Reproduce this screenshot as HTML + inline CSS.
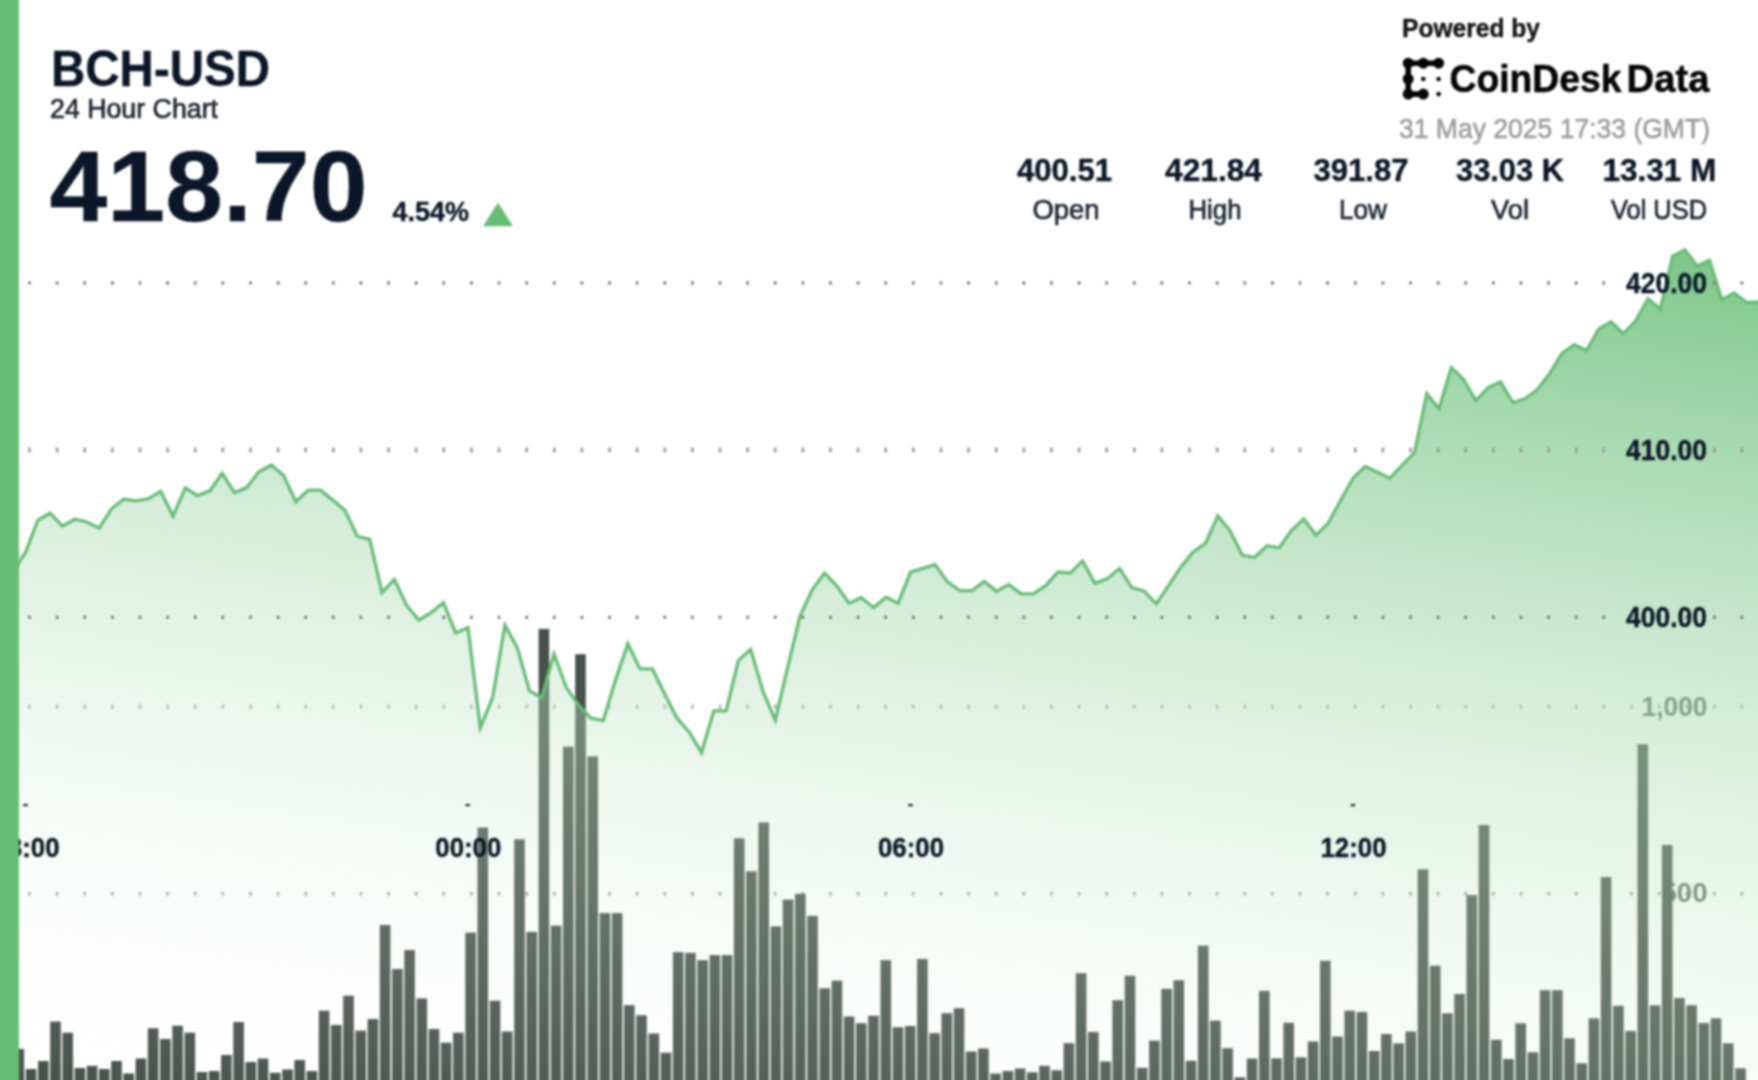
<!DOCTYPE html>
<html lang="en"><head><meta charset="utf-8"><title>BCH-USD 24 Hour Chart</title>
<style>
html,body{margin:0;padding:0;background:#fff;}
body{width:1758px;height:1080px;overflow:hidden;position:relative;font-family:"Liberation Sans",sans-serif;}
svg{position:absolute;left:-24px;top:-24px;display:block;}
text{font-family:"Liberation Sans",sans-serif;}
.b{font-weight:700;}
</style></head><body>
<svg width="1806" height="1128" viewBox="-24 -24 1806 1128">
<defs>
<linearGradient id="ag" gradientUnits="userSpaceOnUse" x1="1758" y1="250" x2="1609.7" y2="1309.2">
<stop offset="0" stop-color="#68be77" stop-opacity="0.88"/>
<stop offset="1" stop-color="#ffffff" stop-opacity="0"/>
</linearGradient>
<filter id="bl" filterUnits="userSpaceOnUse" x="-24" y="-24" width="1806" height="1128" color-interpolation-filters="sRGB"><feGaussianBlur stdDeviation="0.85"/></filter>
<filter id="bt" filterUnits="userSpaceOnUse" x="-24" y="-24" width="1806" height="1128" color-interpolation-filters="sRGB"><feGaussianBlur stdDeviation="0.85"/></filter>
</defs>
<rect x="-24" y="-24" width="1806" height="1128" fill="#fff"/>

<g filter="url(#bl)">
<g fill="#ababab">
<rect x="28.4" y="704.3" width="2.2" height="4.6"/>
<rect x="56.0" y="704.3" width="2.2" height="4.6"/>
<rect x="83.6" y="704.3" width="2.2" height="4.6"/>
<rect x="111.3" y="704.3" width="2.2" height="4.6"/>
<rect x="138.9" y="704.3" width="2.2" height="4.6"/>
<rect x="166.5" y="704.3" width="2.2" height="4.6"/>
<rect x="194.1" y="704.3" width="2.2" height="4.6"/>
<rect x="221.7" y="704.3" width="2.2" height="4.6"/>
<rect x="249.4" y="704.3" width="2.2" height="4.6"/>
<rect x="277.0" y="704.3" width="2.2" height="4.6"/>
<rect x="304.6" y="704.3" width="2.2" height="4.6"/>
<rect x="332.2" y="704.3" width="2.2" height="4.6"/>
<rect x="359.8" y="704.3" width="2.2" height="4.6"/>
<rect x="387.5" y="704.3" width="2.2" height="4.6"/>
<rect x="415.1" y="704.3" width="2.2" height="4.6"/>
<rect x="442.7" y="704.3" width="2.2" height="4.6"/>
<rect x="470.3" y="704.3" width="2.2" height="4.6"/>
<rect x="497.9" y="704.3" width="2.2" height="4.6"/>
<rect x="525.6" y="704.3" width="2.2" height="4.6"/>
<rect x="553.2" y="704.3" width="2.2" height="4.6"/>
<rect x="580.8" y="704.3" width="2.2" height="4.6"/>
<rect x="608.4" y="704.3" width="2.2" height="4.6"/>
<rect x="636.0" y="704.3" width="2.2" height="4.6"/>
<rect x="663.7" y="704.3" width="2.2" height="4.6"/>
<rect x="691.3" y="704.3" width="2.2" height="4.6"/>
<rect x="718.9" y="704.3" width="2.2" height="4.6"/>
<rect x="746.5" y="704.3" width="2.2" height="4.6"/>
<rect x="774.1" y="704.3" width="2.2" height="4.6"/>
<rect x="801.8" y="704.3" width="2.2" height="4.6"/>
<rect x="829.4" y="704.3" width="2.2" height="4.6"/>
<rect x="857.0" y="704.3" width="2.2" height="4.6"/>
<rect x="884.6" y="704.3" width="2.2" height="4.6"/>
<rect x="912.2" y="704.3" width="2.2" height="4.6"/>
<rect x="939.9" y="704.3" width="2.2" height="4.6"/>
<rect x="967.5" y="704.3" width="2.2" height="4.6"/>
<rect x="995.1" y="704.3" width="2.2" height="4.6"/>
<rect x="1022.7" y="704.3" width="2.2" height="4.6"/>
<rect x="1050.3" y="704.3" width="2.2" height="4.6"/>
<rect x="1078.0" y="704.3" width="2.2" height="4.6"/>
<rect x="1105.6" y="704.3" width="2.2" height="4.6"/>
<rect x="1133.2" y="704.3" width="2.2" height="4.6"/>
<rect x="1160.8" y="704.3" width="2.2" height="4.6"/>
<rect x="1188.4" y="704.3" width="2.2" height="4.6"/>
<rect x="1216.1" y="704.3" width="2.2" height="4.6"/>
<rect x="1243.7" y="704.3" width="2.2" height="4.6"/>
<rect x="1271.3" y="704.3" width="2.2" height="4.6"/>
<rect x="1298.9" y="704.3" width="2.2" height="4.6"/>
<rect x="1326.5" y="704.3" width="2.2" height="4.6"/>
<rect x="1354.2" y="704.3" width="2.2" height="4.6"/>
<rect x="1381.8" y="704.3" width="2.2" height="4.6"/>
<rect x="1409.4" y="704.3" width="2.2" height="4.6"/>
<rect x="1437.0" y="704.3" width="2.2" height="4.6"/>
<rect x="1464.6" y="704.3" width="2.2" height="4.6"/>
<rect x="1492.3" y="704.3" width="2.2" height="4.6"/>
<rect x="1519.9" y="704.3" width="2.2" height="4.6"/>
<rect x="1547.5" y="704.3" width="2.2" height="4.6"/>
<rect x="1575.1" y="704.3" width="2.2" height="4.6"/>
<rect x="1602.7" y="704.3" width="2.2" height="4.6"/>
<rect x="1630.4" y="704.3" width="2.2" height="4.6"/>
<rect x="1658.0" y="704.3" width="2.2" height="4.6"/>
<rect x="1685.6" y="704.3" width="2.2" height="4.6"/>
<rect x="1713.2" y="704.3" width="2.2" height="4.6"/>
<rect x="1740.8" y="704.3" width="2.2" height="4.6"/>
</g>
<g fill="#9a9a9a">
<rect x="28.2" y="892.1" width="2.6" height="3.4"/>
<rect x="55.8" y="892.1" width="2.6" height="3.4"/>
<rect x="83.4" y="892.1" width="2.6" height="3.4"/>
<rect x="111.1" y="892.1" width="2.6" height="3.4"/>
<rect x="138.7" y="892.1" width="2.6" height="3.4"/>
<rect x="166.3" y="892.1" width="2.6" height="3.4"/>
<rect x="193.9" y="892.1" width="2.6" height="3.4"/>
<rect x="221.5" y="892.1" width="2.6" height="3.4"/>
<rect x="249.2" y="892.1" width="2.6" height="3.4"/>
<rect x="276.8" y="892.1" width="2.6" height="3.4"/>
<rect x="304.4" y="892.1" width="2.6" height="3.4"/>
<rect x="332.0" y="892.1" width="2.6" height="3.4"/>
<rect x="359.6" y="892.1" width="2.6" height="3.4"/>
<rect x="387.3" y="892.1" width="2.6" height="3.4"/>
<rect x="414.9" y="892.1" width="2.6" height="3.4"/>
<rect x="442.5" y="892.1" width="2.6" height="3.4"/>
<rect x="470.1" y="892.1" width="2.6" height="3.4"/>
<rect x="497.7" y="892.1" width="2.6" height="3.4"/>
<rect x="525.4" y="892.1" width="2.6" height="3.4"/>
<rect x="553.0" y="892.1" width="2.6" height="3.4"/>
<rect x="580.6" y="892.1" width="2.6" height="3.4"/>
<rect x="608.2" y="892.1" width="2.6" height="3.4"/>
<rect x="635.8" y="892.1" width="2.6" height="3.4"/>
<rect x="663.5" y="892.1" width="2.6" height="3.4"/>
<rect x="691.1" y="892.1" width="2.6" height="3.4"/>
<rect x="718.7" y="892.1" width="2.6" height="3.4"/>
<rect x="746.3" y="892.1" width="2.6" height="3.4"/>
<rect x="773.9" y="892.1" width="2.6" height="3.4"/>
<rect x="801.6" y="892.1" width="2.6" height="3.4"/>
<rect x="829.2" y="892.1" width="2.6" height="3.4"/>
<rect x="856.8" y="892.1" width="2.6" height="3.4"/>
<rect x="884.4" y="892.1" width="2.6" height="3.4"/>
<rect x="912.0" y="892.1" width="2.6" height="3.4"/>
<rect x="939.7" y="892.1" width="2.6" height="3.4"/>
<rect x="967.3" y="892.1" width="2.6" height="3.4"/>
<rect x="994.9" y="892.1" width="2.6" height="3.4"/>
<rect x="1022.5" y="892.1" width="2.6" height="3.4"/>
<rect x="1050.1" y="892.1" width="2.6" height="3.4"/>
<rect x="1077.8" y="892.1" width="2.6" height="3.4"/>
<rect x="1105.4" y="892.1" width="2.6" height="3.4"/>
<rect x="1133.0" y="892.1" width="2.6" height="3.4"/>
<rect x="1160.6" y="892.1" width="2.6" height="3.4"/>
<rect x="1188.2" y="892.1" width="2.6" height="3.4"/>
<rect x="1215.9" y="892.1" width="2.6" height="3.4"/>
<rect x="1243.5" y="892.1" width="2.6" height="3.4"/>
<rect x="1271.1" y="892.1" width="2.6" height="3.4"/>
<rect x="1298.7" y="892.1" width="2.6" height="3.4"/>
<rect x="1326.3" y="892.1" width="2.6" height="3.4"/>
<rect x="1354.0" y="892.1" width="2.6" height="3.4"/>
<rect x="1381.6" y="892.1" width="2.6" height="3.4"/>
<rect x="1409.2" y="892.1" width="2.6" height="3.4"/>
<rect x="1436.8" y="892.1" width="2.6" height="3.4"/>
<rect x="1464.4" y="892.1" width="2.6" height="3.4"/>
<rect x="1492.1" y="892.1" width="2.6" height="3.4"/>
<rect x="1519.7" y="892.1" width="2.6" height="3.4"/>
<rect x="1547.3" y="892.1" width="2.6" height="3.4"/>
<rect x="1574.9" y="892.1" width="2.6" height="3.4"/>
<rect x="1602.5" y="892.1" width="2.6" height="3.4"/>
<rect x="1630.2" y="892.1" width="2.6" height="3.4"/>
<rect x="1657.8" y="892.1" width="2.6" height="3.4"/>
<rect x="1685.4" y="892.1" width="2.6" height="3.4"/>
<rect x="1713.0" y="892.1" width="2.6" height="3.4"/>
<rect x="1740.6" y="892.1" width="2.6" height="3.4"/>
</g>
<g class="b" fill="#5f6b62" font-size="27" text-anchor="end" font-weight="700">
<text x="1707.5" y="716.2" textLength="66" lengthAdjust="spacingAndGlyphs">1,000</text>
<text x="1707.5" y="902.2" textLength="46" lengthAdjust="spacingAndGlyphs">500</text>
</g>
<g fill="#465249">
<rect x="13.5" y="1049.0" width="10.6" height="61.0"/>
<rect x="25.8" y="1069.0" width="10.6" height="41.0"/>
<rect x="38.0" y="1061.0" width="10.6" height="49.0"/>
<rect x="50.2" y="1021.5" width="10.6" height="88.5"/>
<rect x="62.4" y="1032.7" width="10.6" height="77.3"/>
<rect x="74.6" y="1068.0" width="10.6" height="42.0"/>
<rect x="86.8" y="1065.8" width="10.6" height="44.2"/>
<rect x="99.0" y="1069.0" width="10.6" height="41.0"/>
<rect x="111.2" y="1061.0" width="10.6" height="49.0"/>
<rect x="123.4" y="1073.5" width="10.6" height="36.5"/>
<rect x="135.6" y="1058.5" width="10.6" height="51.5"/>
<rect x="147.8" y="1028.2" width="10.6" height="81.8"/>
<rect x="160.1" y="1039.0" width="10.6" height="71.0"/>
<rect x="172.3" y="1025.7" width="10.6" height="84.3"/>
<rect x="184.5" y="1032.7" width="10.6" height="77.3"/>
<rect x="196.7" y="1072.0" width="10.6" height="38.0"/>
<rect x="208.9" y="1071.0" width="10.6" height="39.0"/>
<rect x="221.1" y="1055.0" width="10.6" height="55.0"/>
<rect x="233.3" y="1022.0" width="10.6" height="88.0"/>
<rect x="245.5" y="1062.0" width="10.6" height="48.0"/>
<rect x="257.7" y="1058.5" width="10.6" height="51.5"/>
<rect x="269.9" y="1072.8" width="10.6" height="37.2"/>
<rect x="282.2" y="1069.5" width="10.6" height="40.5"/>
<rect x="294.4" y="1060.0" width="10.6" height="50.0"/>
<rect x="306.6" y="1071.0" width="10.6" height="39.0"/>
<rect x="318.8" y="1010.7" width="10.6" height="99.3"/>
<rect x="331.0" y="1025.0" width="10.6" height="85.0"/>
<rect x="343.2" y="995.7" width="10.6" height="114.3"/>
<rect x="355.4" y="1030.7" width="10.6" height="79.3"/>
<rect x="367.6" y="1019.0" width="10.6" height="91.0"/>
<rect x="379.8" y="925.0" width="10.6" height="185.0"/>
<rect x="392.1" y="969.0" width="10.6" height="141.0"/>
<rect x="404.3" y="950.0" width="10.6" height="160.0"/>
<rect x="416.5" y="998.4" width="10.6" height="111.6"/>
<rect x="428.7" y="1029.0" width="10.6" height="81.0"/>
<rect x="440.9" y="1042.7" width="10.6" height="67.3"/>
<rect x="453.1" y="1032.7" width="10.6" height="77.3"/>
<rect x="465.3" y="932.6" width="10.6" height="177.4"/>
<rect x="477.5" y="827.5" width="10.6" height="282.5"/>
<rect x="489.7" y="1000.7" width="10.6" height="109.3"/>
<rect x="501.9" y="1031.5" width="10.6" height="78.5"/>
<rect x="514.2" y="839.3" width="10.6" height="270.7"/>
<rect x="526.4" y="931.9" width="10.6" height="178.1"/>
<rect x="538.6" y="628.9" width="10.6" height="481.1"/>
<rect x="550.8" y="925.6" width="10.6" height="184.4"/>
<rect x="563.0" y="746.7" width="10.6" height="363.3"/>
<rect x="575.2" y="654.2" width="10.6" height="455.8"/>
<rect x="587.4" y="756.4" width="10.6" height="353.6"/>
<rect x="599.6" y="913.1" width="10.6" height="196.9"/>
<rect x="611.8" y="913.1" width="10.6" height="196.9"/>
<rect x="624.0" y="1005.2" width="10.6" height="104.8"/>
<rect x="636.2" y="1015.2" width="10.6" height="94.8"/>
<rect x="648.5" y="1033.5" width="10.6" height="76.5"/>
<rect x="660.7" y="1052.7" width="10.6" height="57.3"/>
<rect x="672.9" y="952.1" width="10.6" height="157.9"/>
<rect x="685.1" y="952.9" width="10.6" height="157.1"/>
<rect x="697.3" y="960.2" width="10.6" height="149.8"/>
<rect x="709.5" y="955.1" width="10.6" height="154.9"/>
<rect x="721.7" y="955.1" width="10.6" height="154.9"/>
<rect x="733.9" y="838.3" width="10.6" height="271.7"/>
<rect x="746.1" y="871.3" width="10.6" height="238.7"/>
<rect x="758.4" y="822.5" width="10.6" height="287.5"/>
<rect x="770.6" y="926.4" width="10.6" height="183.6"/>
<rect x="782.8" y="899.6" width="10.6" height="210.4"/>
<rect x="795.0" y="893.8" width="10.6" height="216.2"/>
<rect x="807.2" y="915.9" width="10.6" height="194.1"/>
<rect x="819.4" y="988.2" width="10.6" height="121.8"/>
<rect x="831.6" y="980.7" width="10.6" height="129.3"/>
<rect x="843.8" y="1016.5" width="10.6" height="93.5"/>
<rect x="856.0" y="1023.2" width="10.6" height="86.8"/>
<rect x="868.2" y="1015.7" width="10.6" height="94.3"/>
<rect x="880.5" y="960.2" width="10.6" height="149.8"/>
<rect x="892.7" y="1027.2" width="10.6" height="82.8"/>
<rect x="904.9" y="1026.0" width="10.6" height="84.0"/>
<rect x="917.1" y="958.9" width="10.6" height="151.1"/>
<rect x="929.3" y="1033.2" width="10.6" height="76.8"/>
<rect x="941.5" y="1013.2" width="10.6" height="96.8"/>
<rect x="953.7" y="1008.2" width="10.6" height="101.8"/>
<rect x="965.9" y="1051.5" width="10.6" height="58.5"/>
<rect x="978.1" y="1048.5" width="10.6" height="61.5"/>
<rect x="990.3" y="1073.5" width="10.6" height="36.5"/>
<rect x="1002.6" y="1071.0" width="10.6" height="39.0"/>
<rect x="1014.8" y="1068.5" width="10.6" height="41.5"/>
<rect x="1027.0" y="1072.3" width="10.6" height="37.7"/>
<rect x="1039.2" y="1065.8" width="10.6" height="44.2"/>
<rect x="1051.4" y="1070.3" width="10.6" height="39.7"/>
<rect x="1063.6" y="1043.2" width="10.6" height="66.8"/>
<rect x="1075.8" y="973.2" width="10.6" height="136.8"/>
<rect x="1088.0" y="1032.0" width="10.6" height="78.0"/>
<rect x="1100.2" y="1061.5" width="10.6" height="48.5"/>
<rect x="1112.4" y="1000.2" width="10.6" height="109.8"/>
<rect x="1124.7" y="975.7" width="10.6" height="134.3"/>
<rect x="1136.9" y="1067.8" width="10.6" height="42.2"/>
<rect x="1149.1" y="1040.7" width="10.6" height="69.3"/>
<rect x="1161.3" y="988.9" width="10.6" height="121.1"/>
<rect x="1173.5" y="980.2" width="10.6" height="129.8"/>
<rect x="1185.7" y="1060.8" width="10.6" height="49.2"/>
<rect x="1197.9" y="945.6" width="10.6" height="164.4"/>
<rect x="1210.1" y="1020.7" width="10.6" height="89.3"/>
<rect x="1222.3" y="1048.2" width="10.6" height="61.8"/>
<rect x="1234.5" y="1077.3" width="10.6" height="32.7"/>
<rect x="1246.8" y="1058.5" width="10.6" height="51.5"/>
<rect x="1259.0" y="990.9" width="10.6" height="119.1"/>
<rect x="1271.2" y="1058.3" width="10.6" height="51.7"/>
<rect x="1283.4" y="1022.8" width="10.6" height="87.2"/>
<rect x="1295.6" y="1057.3" width="10.6" height="52.7"/>
<rect x="1307.8" y="1041.5" width="10.6" height="68.5"/>
<rect x="1320.0" y="960.7" width="10.6" height="149.3"/>
<rect x="1332.2" y="1036.5" width="10.6" height="73.5"/>
<rect x="1344.4" y="1010.7" width="10.6" height="99.3"/>
<rect x="1356.6" y="1012.0" width="10.6" height="98.0"/>
<rect x="1368.9" y="1051.0" width="10.6" height="59.0"/>
<rect x="1381.1" y="1034.0" width="10.6" height="76.0"/>
<rect x="1393.3" y="1043.3" width="10.6" height="66.7"/>
<rect x="1405.5" y="1031.5" width="10.6" height="78.5"/>
<rect x="1417.7" y="869.3" width="10.6" height="240.7"/>
<rect x="1429.9" y="965.7" width="10.6" height="144.3"/>
<rect x="1442.1" y="1013.3" width="10.6" height="96.7"/>
<rect x="1454.3" y="994.0" width="10.6" height="116.0"/>
<rect x="1466.5" y="895.1" width="10.6" height="214.9"/>
<rect x="1478.7" y="825.0" width="10.6" height="285.0"/>
<rect x="1491.0" y="1039.8" width="10.6" height="70.2"/>
<rect x="1503.2" y="1059.0" width="10.6" height="51.0"/>
<rect x="1515.4" y="1023.3" width="10.6" height="86.7"/>
<rect x="1527.6" y="1052.3" width="10.6" height="57.7"/>
<rect x="1539.8" y="990.2" width="10.6" height="119.8"/>
<rect x="1552.0" y="990.2" width="10.6" height="119.8"/>
<rect x="1564.2" y="1038.3" width="10.6" height="71.7"/>
<rect x="1576.4" y="1063.3" width="10.6" height="46.7"/>
<rect x="1588.6" y="1018.3" width="10.6" height="91.7"/>
<rect x="1600.8" y="877.1" width="10.6" height="232.9"/>
<rect x="1613.1" y="1005.8" width="10.6" height="104.2"/>
<rect x="1625.3" y="1031.0" width="10.6" height="79.0"/>
<rect x="1637.5" y="744.2" width="10.6" height="365.8"/>
<rect x="1649.7" y="1005.3" width="10.6" height="104.7"/>
<rect x="1661.9" y="845.0" width="10.6" height="265.0"/>
<rect x="1674.1" y="998.0" width="10.6" height="112.0"/>
<rect x="1686.3" y="1005.3" width="10.6" height="104.7"/>
<rect x="1698.5" y="1023.0" width="10.6" height="87.0"/>
<rect x="1710.7" y="1018.3" width="10.6" height="91.7"/>
<rect x="1722.9" y="1043.3" width="10.6" height="66.7"/>
<rect x="1735.2" y="1068.3" width="10.6" height="41.7"/>
</g>
<path d="M13.2,571.0 L25.5,552.5 L37.8,520.3 L50.1,513.2 L62.4,526.2 L74.7,519.2 L87.0,522.0 L99.3,528.2 L111.5,508.8 L123.8,499.2 L136.1,500.9 L148.4,498.8 L160.7,491.4 L173.0,516.0 L185.3,488.0 L197.6,495.6 L209.9,490.8 L222.2,473.3 L234.5,492.6 L246.8,487.6 L259.0,471.8 L271.3,465.0 L283.6,475.6 L295.9,501.8 L308.2,490.1 L320.5,490.1 L332.8,500.1 L345.1,510.6 L357.4,536.4 L369.7,539.4 L382.0,592.7 L394.3,579.4 L406.5,605.2 L418.8,620.2 L431.1,612.6 L443.4,602.6 L455.7,633.1 L468.0,627.6 L480.3,727.7 L492.6,697.7 L504.9,625.1 L517.2,647.6 L529.5,690.9 L541.8,697.7 L554.0,653.9 L566.3,687.6 L578.6,705.2 L590.9,718.2 L603.2,720.7 L615.5,680.1 L627.8,643.9 L640.1,668.9 L652.4,668.9 L664.7,693.9 L677.0,718.2 L689.3,732.2 L701.5,752.7 L713.8,710.9 L726.1,710.9 L738.4,660.6 L750.7,649.4 L763.0,691.4 L775.3,720.2 L787.6,667.6 L799.9,616.5 L812.2,589.8 L824.5,573.0 L836.8,585.9 L849.0,603.2 L861.3,597.7 L873.6,607.7 L885.9,597.2 L898.2,603.2 L910.5,572.2 L922.8,568.4 L935.1,564.6 L947.4,581.9 L959.7,590.7 L972.0,590.7 L984.3,581.4 L996.5,591.4 L1008.8,584.4 L1021.1,593.9 L1033.4,593.9 L1045.7,585.7 L1058.0,571.9 L1070.3,573.1 L1082.6,560.9 L1094.9,583.4 L1107.2,578.9 L1119.5,568.4 L1131.8,587.6 L1144.0,590.9 L1156.3,603.9 L1168.6,585.6 L1180.9,567.1 L1193.2,551.9 L1205.5,543.3 L1217.8,515.8 L1230.1,530.8 L1242.4,555.3 L1254.7,557.3 L1267.0,545.8 L1279.3,547.8 L1291.5,530.3 L1303.8,519.0 L1316.1,535.3 L1328.4,522.8 L1340.7,500.2 L1353.0,478.2 L1365.3,466.4 L1377.6,472.2 L1389.9,478.2 L1402.2,465.1 L1414.5,452.6 L1426.8,393.8 L1439.0,408.8 L1451.3,367.5 L1463.6,379.6 L1475.9,400.6 L1488.2,387.5 L1500.5,381.8 L1512.8,402.5 L1525.1,398.8 L1537.4,389.5 L1549.7,373.5 L1562.0,353.5 L1574.3,344.6 L1586.5,350.5 L1598.8,329.0 L1611.1,321.7 L1623.4,333.6 L1635.7,320.9 L1648.0,298.8 L1660.3,309.1 L1672.6,256.1 L1684.9,249.8 L1697.2,266.1 L1709.5,260.4 L1721.8,299.6 L1734.0,292.9 L1746.3,302.4 L1758.6,302.0 L1788.6,302.0 L1788.6,1110 L13.2,1110 Z" fill="url(#ag)"/>
<g fill="#737377">
<rect x="28.2" y="281.4" width="2.6" height="3.2"/>
<rect x="55.8" y="281.4" width="2.6" height="3.2"/>
<rect x="83.4" y="281.4" width="2.6" height="3.2"/>
<rect x="111.1" y="281.4" width="2.6" height="3.2"/>
<rect x="138.7" y="281.4" width="2.6" height="3.2"/>
<rect x="166.3" y="281.4" width="2.6" height="3.2"/>
<rect x="193.9" y="281.4" width="2.6" height="3.2"/>
<rect x="221.5" y="281.4" width="2.6" height="3.2"/>
<rect x="249.2" y="281.4" width="2.6" height="3.2"/>
<rect x="276.8" y="281.4" width="2.6" height="3.2"/>
<rect x="304.4" y="281.4" width="2.6" height="3.2"/>
<rect x="332.0" y="281.4" width="2.6" height="3.2"/>
<rect x="359.6" y="281.4" width="2.6" height="3.2"/>
<rect x="387.3" y="281.4" width="2.6" height="3.2"/>
<rect x="414.9" y="281.4" width="2.6" height="3.2"/>
<rect x="442.5" y="281.4" width="2.6" height="3.2"/>
<rect x="470.1" y="281.4" width="2.6" height="3.2"/>
<rect x="497.7" y="281.4" width="2.6" height="3.2"/>
<rect x="525.4" y="281.4" width="2.6" height="3.2"/>
<rect x="553.0" y="281.4" width="2.6" height="3.2"/>
<rect x="580.6" y="281.4" width="2.6" height="3.2"/>
<rect x="608.2" y="281.4" width="2.6" height="3.2"/>
<rect x="635.8" y="281.4" width="2.6" height="3.2"/>
<rect x="663.5" y="281.4" width="2.6" height="3.2"/>
<rect x="691.1" y="281.4" width="2.6" height="3.2"/>
<rect x="718.7" y="281.4" width="2.6" height="3.2"/>
<rect x="746.3" y="281.4" width="2.6" height="3.2"/>
<rect x="773.9" y="281.4" width="2.6" height="3.2"/>
<rect x="801.6" y="281.4" width="2.6" height="3.2"/>
<rect x="829.2" y="281.4" width="2.6" height="3.2"/>
<rect x="856.8" y="281.4" width="2.6" height="3.2"/>
<rect x="884.4" y="281.4" width="2.6" height="3.2"/>
<rect x="912.0" y="281.4" width="2.6" height="3.2"/>
<rect x="939.7" y="281.4" width="2.6" height="3.2"/>
<rect x="967.3" y="281.4" width="2.6" height="3.2"/>
<rect x="994.9" y="281.4" width="2.6" height="3.2"/>
<rect x="1022.5" y="281.4" width="2.6" height="3.2"/>
<rect x="1050.1" y="281.4" width="2.6" height="3.2"/>
<rect x="1077.8" y="281.4" width="2.6" height="3.2"/>
<rect x="1105.4" y="281.4" width="2.6" height="3.2"/>
<rect x="1133.0" y="281.4" width="2.6" height="3.2"/>
<rect x="1160.6" y="281.4" width="2.6" height="3.2"/>
<rect x="1188.2" y="281.4" width="2.6" height="3.2"/>
<rect x="1215.9" y="281.4" width="2.6" height="3.2"/>
<rect x="1243.5" y="281.4" width="2.6" height="3.2"/>
<rect x="1271.1" y="281.4" width="2.6" height="3.2"/>
<rect x="1298.7" y="281.4" width="2.6" height="3.2"/>
<rect x="1326.3" y="281.4" width="2.6" height="3.2"/>
<rect x="1354.0" y="281.4" width="2.6" height="3.2"/>
<rect x="1381.6" y="281.4" width="2.6" height="3.2"/>
<rect x="1409.2" y="281.4" width="2.6" height="3.2"/>
<rect x="1436.8" y="281.4" width="2.6" height="3.2"/>
<rect x="1464.4" y="281.4" width="2.6" height="3.2"/>
<rect x="1492.1" y="281.4" width="2.6" height="3.2"/>
<rect x="1519.7" y="281.4" width="2.6" height="3.2"/>
<rect x="1547.3" y="281.4" width="2.6" height="3.2"/>
<rect x="1574.9" y="281.4" width="2.6" height="3.2"/>
<rect x="1602.5" y="281.4" width="2.6" height="3.2"/>
<rect x="1630.2" y="281.4" width="2.6" height="3.2"/>
<rect x="1657.8" y="281.4" width="2.6" height="3.2"/>
<rect x="1685.4" y="281.4" width="2.6" height="3.2"/>
<rect x="1713.0" y="281.4" width="2.6" height="3.2"/>
<rect x="1740.6" y="281.4" width="2.6" height="3.2"/>
<rect x="28.2" y="615.7" width="2.6" height="3.2"/>
<rect x="55.8" y="615.7" width="2.6" height="3.2"/>
<rect x="83.4" y="615.7" width="2.6" height="3.2"/>
<rect x="111.1" y="615.7" width="2.6" height="3.2"/>
<rect x="138.7" y="615.7" width="2.6" height="3.2"/>
<rect x="166.3" y="615.7" width="2.6" height="3.2"/>
<rect x="193.9" y="615.7" width="2.6" height="3.2"/>
<rect x="221.5" y="615.7" width="2.6" height="3.2"/>
<rect x="249.2" y="615.7" width="2.6" height="3.2"/>
<rect x="276.8" y="615.7" width="2.6" height="3.2"/>
<rect x="304.4" y="615.7" width="2.6" height="3.2"/>
<rect x="332.0" y="615.7" width="2.6" height="3.2"/>
<rect x="359.6" y="615.7" width="2.6" height="3.2"/>
<rect x="387.3" y="615.7" width="2.6" height="3.2"/>
<rect x="414.9" y="615.7" width="2.6" height="3.2"/>
<rect x="442.5" y="615.7" width="2.6" height="3.2"/>
<rect x="470.1" y="615.7" width="2.6" height="3.2"/>
<rect x="497.7" y="615.7" width="2.6" height="3.2"/>
<rect x="525.4" y="615.7" width="2.6" height="3.2"/>
<rect x="553.0" y="615.7" width="2.6" height="3.2"/>
<rect x="580.6" y="615.7" width="2.6" height="3.2"/>
<rect x="608.2" y="615.7" width="2.6" height="3.2"/>
<rect x="635.8" y="615.7" width="2.6" height="3.2"/>
<rect x="663.5" y="615.7" width="2.6" height="3.2"/>
<rect x="691.1" y="615.7" width="2.6" height="3.2"/>
<rect x="718.7" y="615.7" width="2.6" height="3.2"/>
<rect x="746.3" y="615.7" width="2.6" height="3.2"/>
<rect x="773.9" y="615.7" width="2.6" height="3.2"/>
<rect x="801.6" y="615.7" width="2.6" height="3.2"/>
<rect x="829.2" y="615.7" width="2.6" height="3.2"/>
<rect x="856.8" y="615.7" width="2.6" height="3.2"/>
<rect x="884.4" y="615.7" width="2.6" height="3.2"/>
<rect x="912.0" y="615.7" width="2.6" height="3.2"/>
<rect x="939.7" y="615.7" width="2.6" height="3.2"/>
<rect x="967.3" y="615.7" width="2.6" height="3.2"/>
<rect x="994.9" y="615.7" width="2.6" height="3.2"/>
<rect x="1022.5" y="615.7" width="2.6" height="3.2"/>
<rect x="1050.1" y="615.7" width="2.6" height="3.2"/>
<rect x="1077.8" y="615.7" width="2.6" height="3.2"/>
<rect x="1105.4" y="615.7" width="2.6" height="3.2"/>
<rect x="1133.0" y="615.7" width="2.6" height="3.2"/>
<rect x="1160.6" y="615.7" width="2.6" height="3.2"/>
<rect x="1188.2" y="615.7" width="2.6" height="3.2"/>
<rect x="1215.9" y="615.7" width="2.6" height="3.2"/>
<rect x="1243.5" y="615.7" width="2.6" height="3.2"/>
<rect x="1271.1" y="615.7" width="2.6" height="3.2"/>
<rect x="1298.7" y="615.7" width="2.6" height="3.2"/>
<rect x="1326.3" y="615.7" width="2.6" height="3.2"/>
<rect x="1354.0" y="615.7" width="2.6" height="3.2"/>
<rect x="1381.6" y="615.7" width="2.6" height="3.2"/>
<rect x="1409.2" y="615.7" width="2.6" height="3.2"/>
<rect x="1436.8" y="615.7" width="2.6" height="3.2"/>
<rect x="1464.4" y="615.7" width="2.6" height="3.2"/>
<rect x="1492.1" y="615.7" width="2.6" height="3.2"/>
<rect x="1519.7" y="615.7" width="2.6" height="3.2"/>
<rect x="1547.3" y="615.7" width="2.6" height="3.2"/>
<rect x="1574.9" y="615.7" width="2.6" height="3.2"/>
<rect x="1602.5" y="615.7" width="2.6" height="3.2"/>
<rect x="1630.2" y="615.7" width="2.6" height="3.2"/>
<rect x="1657.8" y="615.7" width="2.6" height="3.2"/>
<rect x="1685.4" y="615.7" width="2.6" height="3.2"/>
<rect x="1713.0" y="615.7" width="2.6" height="3.2"/>
<rect x="1740.6" y="615.7" width="2.6" height="3.2"/>
</g>
<g fill="#98989b">
<rect x="28.2" y="447.6" width="2.6" height="4.8"/>
<rect x="55.8" y="447.6" width="2.6" height="4.8"/>
<rect x="83.4" y="447.6" width="2.6" height="4.8"/>
<rect x="111.1" y="447.6" width="2.6" height="4.8"/>
<rect x="138.7" y="447.6" width="2.6" height="4.8"/>
<rect x="166.3" y="447.6" width="2.6" height="4.8"/>
<rect x="193.9" y="447.6" width="2.6" height="4.8"/>
<rect x="221.5" y="447.6" width="2.6" height="4.8"/>
<rect x="249.2" y="447.6" width="2.6" height="4.8"/>
<rect x="276.8" y="447.6" width="2.6" height="4.8"/>
<rect x="304.4" y="447.6" width="2.6" height="4.8"/>
<rect x="332.0" y="447.6" width="2.6" height="4.8"/>
<rect x="359.6" y="447.6" width="2.6" height="4.8"/>
<rect x="387.3" y="447.6" width="2.6" height="4.8"/>
<rect x="414.9" y="447.6" width="2.6" height="4.8"/>
<rect x="442.5" y="447.6" width="2.6" height="4.8"/>
<rect x="470.1" y="447.6" width="2.6" height="4.8"/>
<rect x="497.7" y="447.6" width="2.6" height="4.8"/>
<rect x="525.4" y="447.6" width="2.6" height="4.8"/>
<rect x="553.0" y="447.6" width="2.6" height="4.8"/>
<rect x="580.6" y="447.6" width="2.6" height="4.8"/>
<rect x="608.2" y="447.6" width="2.6" height="4.8"/>
<rect x="635.8" y="447.6" width="2.6" height="4.8"/>
<rect x="663.5" y="447.6" width="2.6" height="4.8"/>
<rect x="691.1" y="447.6" width="2.6" height="4.8"/>
<rect x="718.7" y="447.6" width="2.6" height="4.8"/>
<rect x="746.3" y="447.6" width="2.6" height="4.8"/>
<rect x="773.9" y="447.6" width="2.6" height="4.8"/>
<rect x="801.6" y="447.6" width="2.6" height="4.8"/>
<rect x="829.2" y="447.6" width="2.6" height="4.8"/>
<rect x="856.8" y="447.6" width="2.6" height="4.8"/>
<rect x="884.4" y="447.6" width="2.6" height="4.8"/>
<rect x="912.0" y="447.6" width="2.6" height="4.8"/>
<rect x="939.7" y="447.6" width="2.6" height="4.8"/>
<rect x="967.3" y="447.6" width="2.6" height="4.8"/>
<rect x="994.9" y="447.6" width="2.6" height="4.8"/>
<rect x="1022.5" y="447.6" width="2.6" height="4.8"/>
<rect x="1050.1" y="447.6" width="2.6" height="4.8"/>
<rect x="1077.8" y="447.6" width="2.6" height="4.8"/>
<rect x="1105.4" y="447.6" width="2.6" height="4.8"/>
<rect x="1133.0" y="447.6" width="2.6" height="4.8"/>
<rect x="1160.6" y="447.6" width="2.6" height="4.8"/>
<rect x="1188.2" y="447.6" width="2.6" height="4.8"/>
<rect x="1215.9" y="447.6" width="2.6" height="4.8"/>
<rect x="1243.5" y="447.6" width="2.6" height="4.8"/>
<rect x="1271.1" y="447.6" width="2.6" height="4.8"/>
<rect x="1298.7" y="447.6" width="2.6" height="4.8"/>
<rect x="1326.3" y="447.6" width="2.6" height="4.8"/>
<rect x="1354.0" y="447.6" width="2.6" height="4.8"/>
<rect x="1381.6" y="447.6" width="2.6" height="4.8"/>
<rect x="1409.2" y="447.6" width="2.6" height="4.8"/>
<rect x="1436.8" y="447.6" width="2.6" height="4.8"/>
<rect x="1464.4" y="447.6" width="2.6" height="4.8"/>
<rect x="1492.1" y="447.6" width="2.6" height="4.8"/>
<rect x="1519.7" y="447.6" width="2.6" height="4.8"/>
<rect x="1547.3" y="447.6" width="2.6" height="4.8"/>
<rect x="1574.9" y="447.6" width="2.6" height="4.8"/>
<rect x="1602.5" y="447.6" width="2.6" height="4.8"/>
<rect x="1630.2" y="447.6" width="2.6" height="4.8"/>
<rect x="1657.8" y="447.6" width="2.6" height="4.8"/>
<rect x="1685.4" y="447.6" width="2.6" height="4.8"/>
<rect x="1713.0" y="447.6" width="2.6" height="4.8"/>
<rect x="1740.6" y="447.6" width="2.6" height="4.8"/>
</g>
<path d="M13.2,571.0 L25.5,552.5 L37.8,520.3 L50.1,513.2 L62.4,526.2 L74.7,519.2 L87.0,522.0 L99.3,528.2 L111.5,508.8 L123.8,499.2 L136.1,500.9 L148.4,498.8 L160.7,491.4 L173.0,516.0 L185.3,488.0 L197.6,495.6 L209.9,490.8 L222.2,473.3 L234.5,492.6 L246.8,487.6 L259.0,471.8 L271.3,465.0 L283.6,475.6 L295.9,501.8 L308.2,490.1 L320.5,490.1 L332.8,500.1 L345.1,510.6 L357.4,536.4 L369.7,539.4 L382.0,592.7 L394.3,579.4 L406.5,605.2 L418.8,620.2 L431.1,612.6 L443.4,602.6 L455.7,633.1 L468.0,627.6 L480.3,727.7 L492.6,697.7 L504.9,625.1 L517.2,647.6 L529.5,690.9 L541.8,697.7 L554.0,653.9 L566.3,687.6 L578.6,705.2 L590.9,718.2 L603.2,720.7 L615.5,680.1 L627.8,643.9 L640.1,668.9 L652.4,668.9 L664.7,693.9 L677.0,718.2 L689.3,732.2 L701.5,752.7 L713.8,710.9 L726.1,710.9 L738.4,660.6 L750.7,649.4 L763.0,691.4 L775.3,720.2 L787.6,667.6 L799.9,616.5 L812.2,589.8 L824.5,573.0 L836.8,585.9 L849.0,603.2 L861.3,597.7 L873.6,607.7 L885.9,597.2 L898.2,603.2 L910.5,572.2 L922.8,568.4 L935.1,564.6 L947.4,581.9 L959.7,590.7 L972.0,590.7 L984.3,581.4 L996.5,591.4 L1008.8,584.4 L1021.1,593.9 L1033.4,593.9 L1045.7,585.7 L1058.0,571.9 L1070.3,573.1 L1082.6,560.9 L1094.9,583.4 L1107.2,578.9 L1119.5,568.4 L1131.8,587.6 L1144.0,590.9 L1156.3,603.9 L1168.6,585.6 L1180.9,567.1 L1193.2,551.9 L1205.5,543.3 L1217.8,515.8 L1230.1,530.8 L1242.4,555.3 L1254.7,557.3 L1267.0,545.8 L1279.3,547.8 L1291.5,530.3 L1303.8,519.0 L1316.1,535.3 L1328.4,522.8 L1340.7,500.2 L1353.0,478.2 L1365.3,466.4 L1377.6,472.2 L1389.9,478.2 L1402.2,465.1 L1414.5,452.6 L1426.8,393.8 L1439.0,408.8 L1451.3,367.5 L1463.6,379.6 L1475.9,400.6 L1488.2,387.5 L1500.5,381.8 L1512.8,402.5 L1525.1,398.8 L1537.4,389.5 L1549.7,373.5 L1562.0,353.5 L1574.3,344.6 L1586.5,350.5 L1598.8,329.0 L1611.1,321.7 L1623.4,333.6 L1635.7,320.9 L1648.0,298.8 L1660.3,309.1 L1672.6,256.1 L1684.9,249.8 L1697.2,266.1 L1709.5,260.4 L1721.8,299.6 L1734.0,292.9 L1746.3,302.4 L1758.6,302.0 L1788.6,302.0" fill="none" stroke="#67bd76" stroke-width="3.3" stroke-linejoin="miter" stroke-linecap="butt"/>
</g>
<g filter="url(#bt)">
<g fill="#1c2636">
<rect x="23.3" y="804" width="4.4" height="2.2"/>
<rect x="465.5" y="804" width="4.4" height="2.2"/>
<rect x="908.3" y="804" width="4.4" height="2.2"/>
<rect x="1350.8" y="804" width="4.4" height="2.2"/>
</g>
<g fill="#0b1728" stroke="#0b1728" stroke-width="0.4" font-size="28" font-weight="700">
<text x="1707" y="292.8" text-anchor="end" font-size="28.6" textLength="81" lengthAdjust="spacingAndGlyphs">420.00</text>
<text x="1707" y="459.8" text-anchor="end" font-size="28.6" textLength="81" lengthAdjust="spacingAndGlyphs">410.00</text>
<text x="1707" y="626.8" text-anchor="end" font-size="28.6" textLength="81" lengthAdjust="spacingAndGlyphs">400.00</text>
<text x="26.5" y="856.7" text-anchor="middle" textLength="66" lengthAdjust="spacingAndGlyphs">18:00</text>
<text x="468.3" y="856.7" text-anchor="middle" textLength="66" lengthAdjust="spacingAndGlyphs">00:00</text>
<text x="911" y="856.7" text-anchor="middle" textLength="66" lengthAdjust="spacingAndGlyphs">06:00</text>
<text x="1353.5" y="856.7" text-anchor="middle" textLength="66" lengthAdjust="spacingAndGlyphs">12:00</text>
</g>
<rect x="-24" y="-24" width="42.9" height="1128" fill="#66be74"/>
<g fill="#0b1728" stroke="#0b1728" stroke-width="0.4">
<text x="51" y="86" font-size="49.6" font-weight="700" textLength="219" lengthAdjust="spacingAndGlyphs">BCH-USD</text>
<text x="50" y="118.4" font-size="28.4" fill="#1a2535" stroke="#1a2535" stroke-width="0.7" textLength="168" lengthAdjust="spacingAndGlyphs">24 Hour Chart</text>
<text x="49.5" y="221" font-size="100.5" font-weight="700" textLength="318" lengthAdjust="spacingAndGlyphs">418.70</text>
<text x="392.5" y="221" font-size="28" font-weight="700" textLength="76.5" lengthAdjust="spacingAndGlyphs">4.54%</text>
<path d="M498,202.5 L513,226.2 L483,226.2 Z" fill="#66be74" stroke="none"/>
</g>
<text x="1402" y="37.2" font-size="26.5" font-weight="700" fill="#141414" stroke="#141414" stroke-width="0.4" textLength="138" lengthAdjust="spacingAndGlyphs">Powered by</text>
<g fill="#050505" stroke="#050505" stroke-width="5.6" stroke-linecap="round">
<path d="M1438.6,63.2 L1408.2,63.2 L1408.2,94.1 L1423.3,94.1" fill="none" stroke-linejoin="round"/>
<circle cx="1408.2" cy="63.2" r="5.5" stroke="none"/>
<circle cx="1423.3" cy="63.2" r="5.5" stroke="none"/>
<circle cx="1438.6" cy="63.2" r="5.5" stroke="none"/>
<circle cx="1408.2" cy="79.0" r="5.5" stroke="none"/>
<circle cx="1408.2" cy="94.1" r="5.5" stroke="none"/>
<circle cx="1423.3" cy="94.1" r="5.5" stroke="none"/>
<circle cx="1423.3" cy="79.0" r="2.3" stroke="none"/>
<circle cx="1438.6" cy="79.0" r="2.3" stroke="none"/>
<circle cx="1438.6" cy="94.1" r="2.3" stroke="none"/>
</g>
<text x="1449.5" y="92" font-size="38.5" font-weight="700" fill="#050505" stroke="#050505" stroke-width="0.5" textLength="172" lengthAdjust="spacingAndGlyphs">CoinDesk</text>
<text x="1626.5" y="92" font-size="38.5" font-weight="700" fill="#050505" stroke="#050505" stroke-width="0.5" textLength="83" lengthAdjust="spacingAndGlyphs">Data</text>
<text x="1399" y="137.8" font-size="28.5" fill="#9c9c9c" stroke="#9c9c9c" stroke-width="0.6" textLength="311" lengthAdjust="spacingAndGlyphs">31 May 2025 17:33 (GMT)</text>
<text x="1064.5" y="181.3" font-size="31" font-weight="700" fill="#0b1728" stroke="#0b1728" stroke-width="0.4" text-anchor="middle" textLength="95" lengthAdjust="spacingAndGlyphs">400.51</text>
<text x="1066" y="218.9" font-size="28" fill="#1a2535" stroke="#1a2535" stroke-width="0.7" text-anchor="middle" textLength="67" lengthAdjust="spacingAndGlyphs">Open</text>
<text x="1213.5" y="181.3" font-size="31" font-weight="700" fill="#0b1728" stroke="#0b1728" stroke-width="0.4" text-anchor="middle" textLength="97" lengthAdjust="spacingAndGlyphs">421.84</text>
<text x="1215" y="218.9" font-size="28" fill="#1a2535" stroke="#1a2535" stroke-width="0.7" text-anchor="middle" textLength="53" lengthAdjust="spacingAndGlyphs">High</text>
<text x="1361" y="181.3" font-size="31" font-weight="700" fill="#0b1728" stroke="#0b1728" stroke-width="0.4" text-anchor="middle" textLength="95" lengthAdjust="spacingAndGlyphs">391.87</text>
<text x="1363" y="218.9" font-size="28" fill="#1a2535" stroke="#1a2535" stroke-width="0.7" text-anchor="middle" textLength="48" lengthAdjust="spacingAndGlyphs">Low</text>
<text x="1510" y="181.3" font-size="31" font-weight="700" fill="#0b1728" stroke="#0b1728" stroke-width="0.4" text-anchor="middle" textLength="108" lengthAdjust="spacingAndGlyphs">33.03 K</text>
<text x="1510" y="218.9" font-size="28" fill="#1a2535" stroke="#1a2535" stroke-width="0.7" text-anchor="middle" textLength="38" lengthAdjust="spacingAndGlyphs">Vol</text>
<text x="1659.4" y="181.3" font-size="31" font-weight="700" fill="#0b1728" stroke="#0b1728" stroke-width="0.4" text-anchor="middle" textLength="114" lengthAdjust="spacingAndGlyphs">13.31 M</text>
<text x="1659" y="218.9" font-size="28" fill="#1a2535" stroke="#1a2535" stroke-width="0.7" text-anchor="middle" textLength="96" lengthAdjust="spacingAndGlyphs">Vol USD</text>
</g>
</svg></body></html>
